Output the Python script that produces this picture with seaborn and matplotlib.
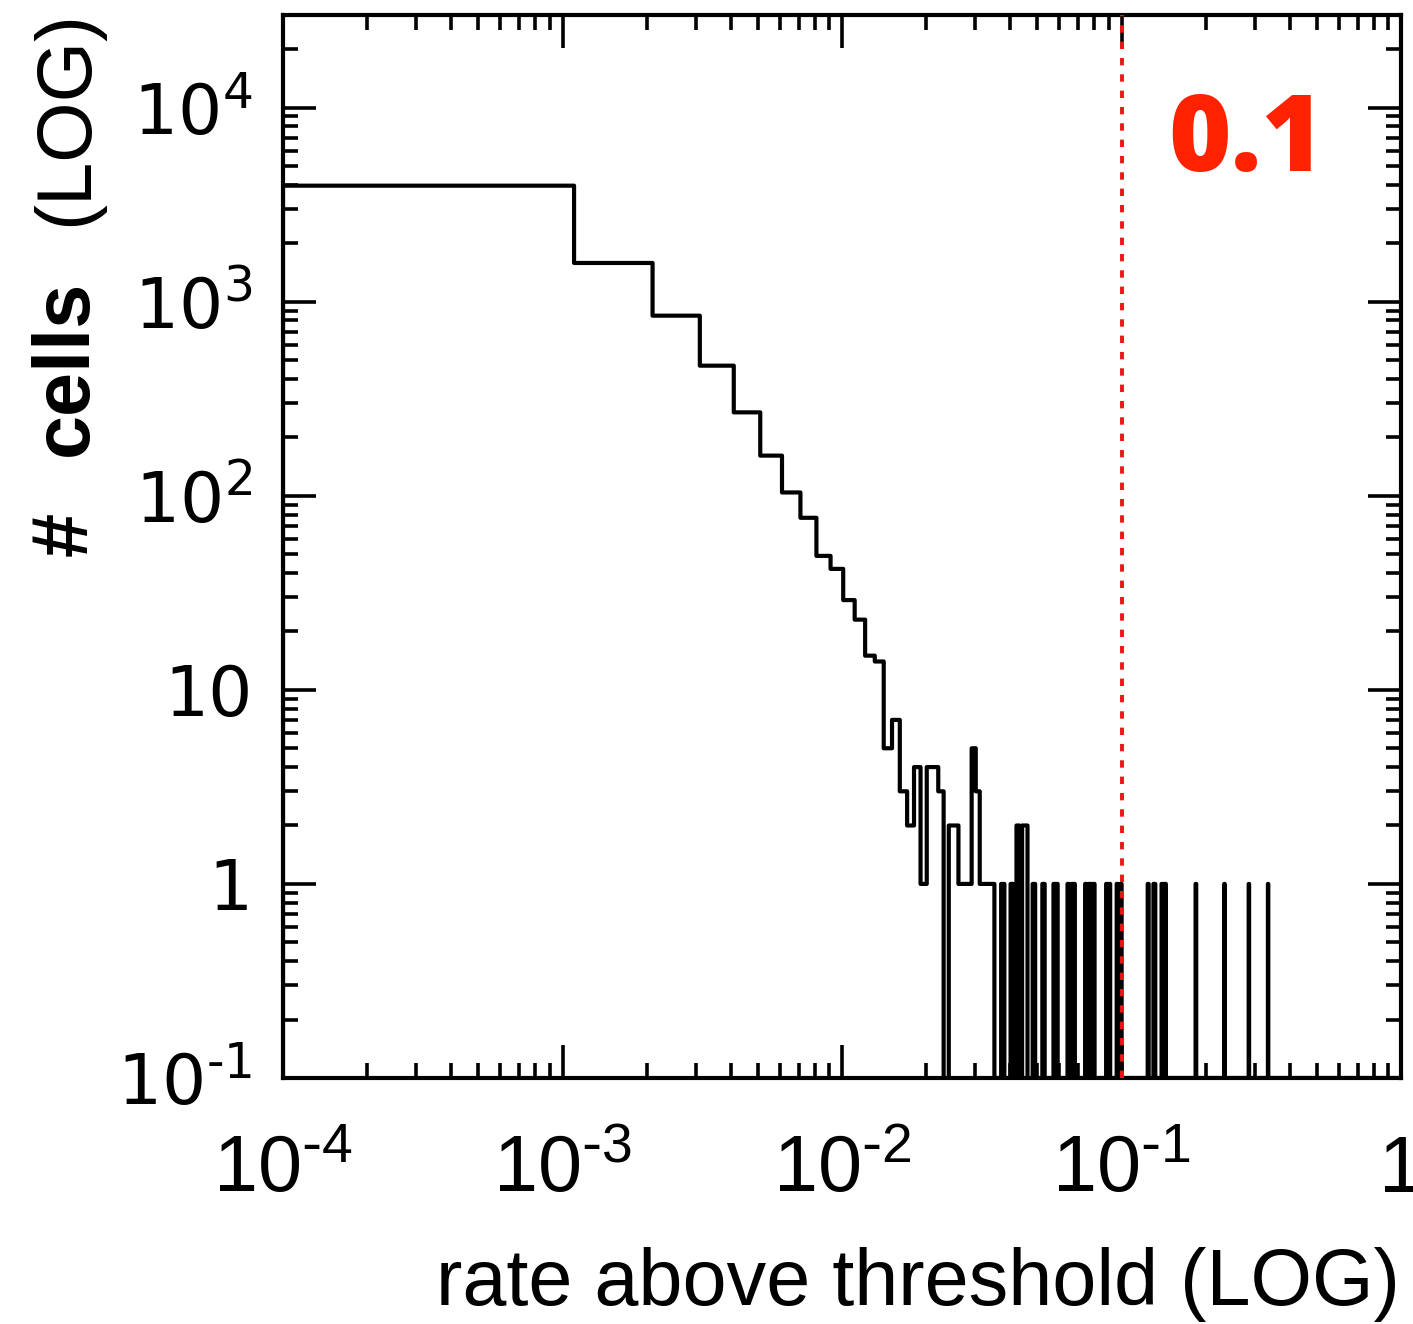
import numpy as np
import pandas as pd
import matplotlib
matplotlib.use("Agg")
import matplotlib.pyplot as plt
from matplotlib import font_manager
from matplotlib.ticker import LogLocator, NullFormatter, FixedLocator, FixedFormatter
import seaborn as sns

# Linear histogram bins of fixed width, starting at the lower x limit
bin_start = 1e-4
bin_width = 1e-3
n_bins = 1000

# Counts of the dense part of the distribution (bins 0..35)
head_counts = [3960, 1583, 847, 468, 269, 161, 104, 77, 49, 42,
               29, 23, 15, 14, 5, 7, 3, 2, 4, 1,
               4, 4, 3, 0, 2, 2, 1, 1, 1, 5,
               3, 1, 1, 1, 1, 0]

# Sparse tail: bin index and count of every non-empty bin after that
tail_bins = [37, 40, 42, 44, 45, 48, 52, 57, 58, 64, 66, 67,
             74, 76, 77, 79, 88, 90, 96, 99, 124, 130, 131, 139, 141, 143,
             184, 233, 285, 334]
tail_counts = [1, 1, 2, 2, 2, 1, 1, 1, 1, 1, 1, 1,
               1, 1, 1, 1, 1, 1, 1, 1, 1, 1, 1, 1, 1, 1,
               1, 1, 1, 1]

threshold = 0.1
threshold_label = "0.1"

x_label = "rate above threshold (LOG)"
y_label_parts = ["#", "cells", "(LOG)"]

x_ticks = [1e-4, 1e-3, 1e-2, 1e-1, 1.0]
x_tick_labels = [r"$\mathdefault{10^{\text{-}4}}$", r"$\mathdefault{10^{\text{-}3}}$",
                 r"$\mathdefault{10^{\text{-}2}}$", r"$\mathdefault{10^{\text{-}1}}$", "1"]
y_ticks = [1e-1, 1.0, 10.0, 1e2, 1e3, 1e4]
y_tick_labels = [r"$\mathdefault{10^{\text{-}1}}$", "1", "10",
                 r"$\mathdefault{10^{2}}$", r"$\mathdefault{10^{3}}$",
                 r"$\mathdefault{10^{4}}$"]
x_limits = (1e-4, 1.0)
y_limits = (1e-1, 3.0e4)

# ---------------------------------------------------------------------------
sns.set_style("white")
plt.rcParams["font.family"] = ["Liberation Sans", "DejaVu Sans"]
plt.rcParams["text.color"] = "black"
plt.rcParams["xtick.color"] = "black"
plt.rcParams["ytick.color"] = "black"
plt.rcParams["xtick.labelcolor"] = "black"
plt.rcParams["ytick.labelcolor"] = "black"

installed = {f.name for f in font_manager.fontManager.ttflist}
narrow = "Liberation Sans Narrow" if "Liberation Sans Narrow" in installed else "Liberation Sans"
heavy = "Open Sans" if "Open Sans" in installed else "DejaVu Sans"

W, H = 1413, 1324
fig = plt.figure(figsize=(W / 100, H / 100), dpi=100)
ax = fig.add_axes([283 / W, 1 - 1078 / H, (1401 - 283) / W, (1078 - 15) / H])

# Assemble the full count array and the step outline
counts = np.zeros(n_bins)
counts[:len(head_counts)] = head_counts
counts[tail_bins] = tail_counts
edges = bin_start + bin_width * np.arange(n_bins + 1)

floor = y_limits[0]
shown = np.where(counts > 0, counts, floor)
xs = np.concatenate([[edges[0]], edges])
ys = np.concatenate([[floor], shown, [floor]])
df = pd.DataFrame({"rate": xs, "cells": ys})

sns.lineplot(data=df, x="rate", y="cells", drawstyle="steps-post",
             estimator=None, sort=False, color="black", linewidth=3.0, ax=ax)

ax.set_xscale("log")
ax.set_yscale("log")
ax.set_xlim(*x_limits)
ax.set_ylim(*y_limits)

ax.axvline(threshold, color="#f01515", linewidth=2.8,
           linestyle=(0, (1.9, 2.3)), zorder=5)

ax.text((1168 - 283) / (1401 - 283), 1 - (171 - 15) / (1078 - 15),
        threshold_label, transform=ax.transAxes, ha="left", va="baseline",
        fontsize=77, fontweight="heavy", family=[heavy, "DejaVu Sans"],
        color="#ff2200")

# Axes frame and ticks
for s in ax.spines.values():
    s.set_linewidth(3.0)
    s.set_color("black")

ax.xaxis.set_major_locator(FixedLocator(x_ticks))
ax.xaxis.set_major_formatter(FixedFormatter(x_tick_labels))
ax.yaxis.set_major_locator(FixedLocator(y_ticks))
ax.yaxis.set_major_formatter(FixedFormatter(y_tick_labels))
ax.xaxis.set_minor_locator(LogLocator(base=10, subs=np.arange(2, 10), numticks=100))
ax.yaxis.set_minor_locator(LogLocator(base=10, subs=np.arange(2, 10), numticks=100))
ax.xaxis.set_minor_formatter(NullFormatter())
ax.yaxis.set_minor_formatter(NullFormatter())

ax.tick_params(which="both", direction="in", top=True, right=True,
               bottom=True, left=True, color="black", width=2.6)
ax.tick_params(which="major", length=23.5)
ax.tick_params(which="minor", length=11)
ax.tick_params(axis="x", which="major", labelsize=57, pad=40,
               labelfontfamily=narrow, labelcolor="black")
ax.tick_params(axis="y", which="major", labelsize=50, pad=22,
               labelfontfamily="DejaVu Sans", labelcolor="black")
ax.set_xlabel("")
ax.set_ylabel("")

# Axis titles
fig.text(1400 / W, 1 - 1305 / H, x_label, ha="right", va="baseline",
         fontsize=57, family=["Liberation Sans", "DejaVu Sans"], color="black")

label_bold = dict(rotation=90, rotation_mode="anchor", ha="left", va="baseline",
                  fontsize=57, fontweight="bold", family=[narrow, "DejaVu Sans"],
                  color="black")
fig.text(87 / W, 1 - 556 / H, y_label_parts[0], **label_bold)
fig.text(87 / W, 1 - 456 / H, y_label_parts[1], **label_bold)
fig.text(87 / W, 1 - 226 / H, y_label_parts[2], rotation=90,
         rotation_mode="anchor", ha="left", va="baseline", fontsize=56,
         family=["Liberation Sans", "DejaVu Sans"], color="black")

fig.savefig("out.png", dpi=100, facecolor="white")
